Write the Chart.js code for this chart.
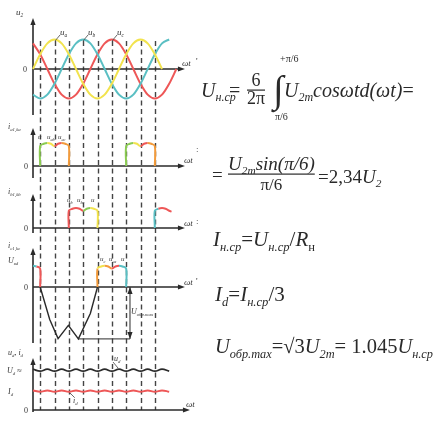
<!DOCTYPE html>
<html><head><meta charset="utf-8">
<script src="https://cdn.jsdelivr.net/npm/chart.js@4/dist/chart.umd.min.js"></script>
<style>html,body{margin:0;padding:0;background:#fff;}canvas{display:block;}</style>
</head><body>
<canvas id="c" width="436" height="421"></canvas>
<script>
// ===== DATA (angle ωt in degrees) =====
// phase voltages u_a, u_b, u_c (relative to amplitude)
const wtPhase = [0,30,60,90,120,150,180,210,240,270,300,330,360,390,420,450,480,510,540,570,600];
const uA = [0,0.5,0.87,1,0.87,0.5,0,-0.5,-0.87,-1,-0.87,-0.5,0,0.5,0.87,1,0.87,0.5,0];
const uB = [-0.87,-1,-0.87,-0.5,0,0.5,0.87,1,0.87,0.5,0,-0.5,-0.87,-1,-0.87,-0.5,0,0.5,0.87,1];
const uC = [0.87,0.5,0,-0.5,-0.87,-1,-0.87,-0.5,0,0.5,0.87,1,0.87,0.5,0,-0.5,-0.87,-1,-0.87,-0.5,0];
// diode current, phase a
const wtIa1 = [30,30,45,60,75,90,105,120,135,150,150];
const iA1   = [0,1.5,1.67,1.73,1.67,1.5,1.67,1.73,1.67,1.5,0];
const wtIa2 = [390,390,405,420,435,450,465,480,495,510,510];
const iA2   = [0,1.5,1.67,1.73,1.67,1.5,1.67,1.73,1.67,1.5,0];
// diode current, phase b
const wtIb1 = [150,150,165,180,195,210,225,240,255,270,270];
const iB1   = [0,1.5,1.67,1.73,1.67,1.5,1.67,1.73,1.67,1.5,0];
const wtIb2 = [510,510,525,540,555,570,580];
const iB2   = [0,1.5,1.67,1.73,1.67,1.5,1.42];
// diode current, phase c
const wtIc1 = [0,15,30,30];
const iC1   = [1.73,1.67,1.5,0];
const wtIc2 = [270,270,285,300,315,330,345,360,375,390,390];
const iC2   = [0,1.5,1.67,1.73,1.67,1.5,1.67,1.73,1.67,1.5,0];
// reverse voltage across the diode
const wtRev = [30,70,105,148,190,240,270];
const uRev  = [0,-1.1,-1.75,-1.3,-1.76,-0.9,0];
// U_obr.max dimension line
const wtDim = [188,406,406];
const uDim  = [-1.76,-1.76,0];
// output voltage and current with ripple
const wtOut = [0,30,60,90,120,150,180,210,240,270,300,330,360,390,420,450,480,510,540,570];
const uD = [1.02,0.97,1.02,0.97,1.02,0.97,1.02,0.97,1.02,0.97,1.02,0.97,1.02,0.97,1.02,0.97,1.02,0.97,1.02,0.97];
const iD = [0.49,0.455,0.49,0.455,0.49,0.455,0.49,0.455,0.49,0.455,0.49,0.455,0.49,0.455,0.49,0.455,0.49,0.455,0.49,0.455];
// commutation instants (dashed lines)
const wtComm = [30,90,150,210,270,330,390,450,510];

// ===== LAYOUT / STYLE =====
const W = 436, H = 421;
const X0 = 33, PXDEG = 0.2389;
const panelScale = {
  yA: {axis: 69,  unit: 29.5},
  yB: {axis: 166, unit: 13.3},
  yC: {axis: 228, unit: 11.5},
  yD: {axis: 287, unit: 12.3},
  yR: {axis: 287, unit: 29.5},
  yE: {axis: 410, unit: 40}
};
const YEL='#f2e34e', CYN='#5abfc3', RED='#ee5757', GRN='#8bcb52', ORG='#f39b3b', INK='#2a2a2a';

const scales = { x: {type:'linear', display:false, bounds:'data', min: -X0/PXDEG, max: (W-X0)/PXDEG} };
for (const k in panelScale) {
  const p = panelScale[k];
  scales[k] = {type:'linear', display:false, bounds:'data', min:(p.axis-H)/p.unit, max:p.axis/p.unit};
}

const pts = (xs, ys) => ys.map((y,i)=>({x: xs[i], y}));
const bandColor = (bands) => (c) => {
  const a = c.p0.parsed.x, b = c.p1.parsed.x, m = (a+b)/2;
  for (const [lo,hi,col] of bands) if (m>=lo && m<=hi) return col;
  return bands[bands.length-1][2];
};
function ds(yAxisID, xs, ys, color, extra) {
  return Object.assign({data: pts(xs,ys), yAxisID, borderColor: color, borderWidth: 2,
    pointRadius: 0, fill: false, tension: 0.35}, extra||{});
}
function pulse(yAxisID, xs, ys, bands) {
  return ds(yAxisID, xs, ys, bands[0][2], {segment:{borderColor: bandColor(bands)}});
}

const datasets = [
  ds('yA', wtPhase, uA, YEL, {cubicInterpolationMode:'monotone'}),
  ds('yA', wtPhase, uB, CYN, {cubicInterpolationMode:'monotone'}),
  ds('yA', wtPhase, uC, RED, {cubicInterpolationMode:'monotone'}),
  pulse('yB', wtIa1, iA1, [[30,60,GRN],[60,90,YEL],[90,120,RED],[120,150,ORG]]),
  pulse('yB', wtIa2, iA2, [[390,420,GRN],[420,450,YEL],[450,480,RED],[480,510,ORG]]),
  pulse('yC', wtIb1, iB1, [[150,210,RED],[210,240,GRN],[240,270,YEL]]),
  pulse('yC', wtIb2, iB2, [[510,525,CYN],[525,580,RED]]),
  pulse('yD', wtIc1, iC1, [[0,15,CYN],[15,30,RED]]),
  pulse('yD', wtIc2, iC2, [[270,270,ORG],[270,300,YEL],[300,330,ORG],[330,360,RED],[360,390,CYN]]),
  ds('yR', wtRev, uRev, INK, {tension:0, borderWidth:1.4}),
  ds('yR', wtDim, uDim, INK, {tension:0, borderWidth:1}),
  ds('yE', wtOut, uD, INK, {borderWidth:1.8, tension:0.4}),
  ds('yE', wtOut, iD, RED, {borderWidth:2, tension:0.4})
];

// axes: vertical extent [top,bottom] in panel units, horizontal end angle
const axesCfg = [
  {y:'yA', top:1.73, bottom:-1.56, xEnd:636},
  {y:'yB', top:2.86, bottom:-0.9,  xEnd:636},
  {y:'yC', top:2.96, bottom:-0.43, xEnd:636},
  {y:'yD', top:3.17, bottom:-4.55, xEnd:636},
  {y:'yE', top:1.3,  bottom:-0.05, xEnd:657}
];

function rich(ctx, x, y, size, parts, color) {
  ctx.fillStyle = color || INK;
  ctx.textAlign = 'left'; ctx.textBaseline = 'alphabetic';
  for (const [t, k] of parts) {
    let fs = size, dy = 0, it = 'italic ';
    if (k === 'r') it = '';
    if (k === 's') { fs = size*0.6; dy = size*0.22; }
    if (k === 'sr') { fs = size*0.6; dy = size*0.22; it=''; }
    if (k === 'p') { fs = size*0.55; dy = -size*0.45; it=''; }
    ctx.font = it + fs + 'px "Liberation Serif", "DejaVu Serif", serif';
    ctx.fillText(t, x, y+dy);
    x += ctx.measureText(t).width;
  }
  return x;
}
function arrow(ctx, x, y, dir) {
  ctx.beginPath();
  if (dir==='up') { ctx.moveTo(x,y); ctx.lineTo(x-2.6,y+7); ctx.lineTo(x+2.6,y+7); }
  else if (dir==='down') { ctx.moveTo(x,y); ctx.lineTo(x-2.6,y-7); ctx.lineTo(x+2.6,y-7); }
  else { ctx.moveTo(x,y); ctx.lineTo(x-7,y-2.6); ctx.lineTo(x-7,y+2.6); }
  ctx.closePath(); ctx.fill();
}

const diagramPlugin = {
  id: 'diagram',
  beforeDatasetsDraw(chart) {
    const ctx = chart.ctx, S = chart.scales;
    ctx.save();
    // dashed commutation lines
    ctx.strokeStyle = '#444'; ctx.lineWidth = 1.4; ctx.setLineDash([5,3.5]);
    const yTop = S.yA.getPixelForValue(0.95), yBot = S.yE.getPixelForValue(0);
    for (const a of wtComm) {
      const x = Math.round(S.x.getPixelForValue(a)) + 0.5;
      ctx.beginPath(); ctx.moveTo(x, yTop); ctx.lineTo(x, yBot); ctx.stroke();
    }
    ctx.setLineDash([]);
    // axes
    ctx.strokeStyle = INK; ctx.fillStyle = INK; ctx.lineWidth = 1.6;
    const x0 = S.x.getPixelForValue(0);
    for (const a of axesCfg) {
      const ys = S[a.y];
      const yt = ys.getPixelForValue(a.top), yb = ys.getPixelForValue(a.bottom), y0 = ys.getPixelForValue(0);
      const xe = S.x.getPixelForValue(a.xEnd);
      ctx.beginPath(); ctx.moveTo(x0, yb); ctx.lineTo(x0, yt+4); ctx.stroke();
      ctx.beginPath(); ctx.moveTo(x0, y0); ctx.lineTo(xe-4, y0); ctx.stroke();
      arrow(ctx, x0, yt, 'up'); arrow(ctx, xe, y0, 'right');
    }
    ctx.restore();
  },
  afterDatasetsDraw(chart) {
    const ctx = chart.ctx, S = chart.scales;
    ctx.save();
    // dimension arrows U_obr.max
    ctx.fillStyle = INK;
    const xd = S.x.getPixelForValue(wtDim[1]);
    arrow(ctx, xd, S.yR.getPixelForValue(0), 'up');
    arrow(ctx, xd, S.yR.getPixelForValue(uDim[0]), 'down');
    // leader lines
    ctx.strokeStyle = '#444'; ctx.lineWidth = 0.8;
    for (const [a,b,c,d] of [[55,41,60,35],[83,41,88,35],[112,41,117,35],[118,368,113,362],[70,393,74,397]]) {
      ctx.beginPath(); ctx.moveTo(a,b); ctx.lineTo(c,d); ctx.stroke();
    }
    // small labels of the waveform diagram
    const L = (x,y,parts,sz) => rich(ctx, x, y, sz||8, parts, '#333');
    L(16,15,[['u','i'],['2','s']],9);
    L(23,72,[['0','r']]);
    L(182,66,[['ωt','i']],9);
    L(60,35,[['u','i'],['a','s']],9);
    L(88,35,[['u','i'],['b','s']],9);
    L(117,35,[['u','i'],['c','s']],9);
    L(8,129,[['i','i'],['a1,ka','s']]);
    L(24,169,[['0','r']]);
    L(184,163,[['ωt','i']],9);
    L(38,139,[['u','i']],7); L(47,139,[['u','i'],['ab','s']],7); L(58,139,[['u','i'],['ac','s']],7);
    L(8,194,[['i','i'],['b1,kb','s']]);
    L(24,231,[['0','r']]);
    L(184,226,[['ωt','i']],9);
    L(67,202,[['u','i'],['b','s']],7); L(77,202,[['u','i'],['bc','s']],7); L(91,202,[['u','i']],7);
    L(8,248,[['i','i'],['c1,kc','s']]);
    L(8,263,[['U','i'],['вd','s']]);
    L(24,290,[['0','r']]);
    L(184,285,[['ωt','i']],9);
    L(100,261,[['u','i'],['c','s']],7); L(109,261,[['u','i'],['ca','s']],7); L(121,261,[['u','i']],7);
    L(131,314,[['U','i'],['обр.max','s']],8);
    L(8,355,[['u','i'],['d','s'],[', ','r'],['i','i'],['d','s']]);
    L(7,373,[['U','i'],['d','s'],[' ≈','r']]);
    L(8,394,[['I','i'],['d','s']]);
    L(24,413,[['0','r']]);
    L(186,407,[['ωt','i']],9);
    L(114,361,[['u','i'],['d','s']],8);
    L(73,403,[['i','i'],['d','s']],8);
    // stray marks at the left of the formulas
    L(196,64,[["'",'r']],9); L(196,152,[[':','r']],9); L(196,224,[[':','r']],9); L(196,284,[["'",'r']],9);

    // ===== formulas =====
    const F = 20;
    rich(ctx, 201, 97, F, [['U','i'],['н.ср','s']]);
    rich(ctx, 229, 97, F, [['=','r']]);
    ctx.font = '18px "Liberation Serif"'; ctx.textAlign='center'; ctx.fillStyle=INK;
    ctx.fillText('6', 256, 86); ctx.fillText('2π', 256, 104);
    ctx.fillRect(247, 89.5, 18, 1.2);
    ctx.font = 'italic 38px "Liberation Serif"'; ctx.textAlign='left';
    ctx.fillText('∫', 273, 102);
    rich(ctx, 280, 62, 10, [['+π/6','r']]);
    rich(ctx, 275, 120, 10, [['π/6','r']]);
    rich(ctx, 284, 97, F, [['U','i'],['2m','s'],['cosωtd(ωt)','i'],['=','r']]);

    rich(ctx, 212, 181, 19, [['=','r']]);
    const nEnd = rich(ctx, 228, 170, 19, [['U','i'],['2m','s'],['sin(π/6)','i']]);
    ctx.fillStyle=INK; ctx.fillRect(228, 173.5, nEnd-228, 1.2);
    ctx.font = '17px "Liberation Serif"'; ctx.textAlign='center';
    ctx.fillText('π/6', (228+nEnd)/2, 190); ctx.textAlign='left';
    rich(ctx, 318, 183, 19, [['=2,34','r'],['U','i'],['2','s']]);

    rich(ctx, 213, 246, 21, [['I','i'],['н.ср','s'],['=','r'],['U','i'],['н.ср','s'],['/','r'],['R','i'],['н','sr']]);
    rich(ctx, 215, 301, 21, [['I','i'],['d','s'],['=','r'],['I','i'],['н.ср','s'],['/3','r']]);
    rich(ctx, 215, 353, 20.5, [['U','i'],['обр.max','s'],['=√3','r'],['U','i'],['2m','s'],['= 1.045','r'],['U','i'],['н.ср','s']]);
    ctx.restore();
  }
};

new Chart(document.getElementById('c'), {
  type: 'line',
  data: { datasets },
  options: {
    responsive: false, animation: false, parsing: true,
    layout: { padding: 0 },
    plugins: { legend: {display:false}, tooltip: {enabled:false} },
    scales
  },
  plugins: [diagramPlugin]
});
</script>
</body></html>
